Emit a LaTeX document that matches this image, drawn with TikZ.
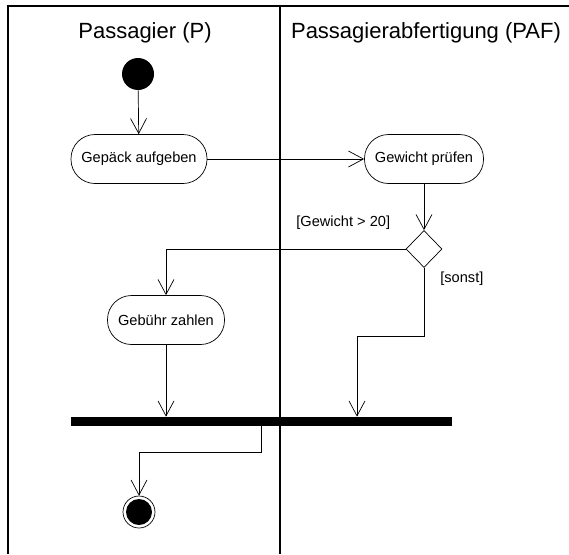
\documentclass[tikz,border=0pt]{standalone}
\usepackage{fontspec}
\setmainfont{Liberation Sans}
\usetikzlibrary{arrows.meta,shapes.geometric}

\tikzset{
  lane/.style={font=\fontsize{22}{24}\selectfont},
  activity/.style={draw, rounded corners=24pt, minimum height=49pt, inner sep=0pt,
    font=\fontsize{14.6}{16}\selectfont},
  decision/.style={draw, diamond, minimum width=36pt, minimum height=37pt, inner sep=0pt},
  startnode/.style={circle, fill, minimum size=32pt, inner sep=0pt},
  endnode/.style={circle, draw, minimum size=32pt, inner sep=0pt,
    path picture={\fill (path picture bounding box.center) circle (13pt);}},
  syncbar/.style={fill, minimum height=9pt, inner sep=0pt},
  guard/.style={font=\fontsize{14.6}{16}\selectfont, anchor=west, inner sep=0pt},
  flow/.style={-{Straight Barb[length=15pt,width=16pt]}}
}

\begin{document}
\begin{tikzpicture}[x=1pt, y=-1pt, line width=0.7pt]
\useasboundingbox (0,0) rectangle (569,554);

\draw[line width=1.2pt] (8,554) -- (8,6) -- (569,6);
\draw[line width=1.2pt] (280,6) -- (280,554);
\node[lane] (lp) at (145,33) {Passagier (P)};
\node[lane] (lpaf) at (426,33) {Passagierabfertigung (PAF)};

\node[startnode] (start) at (138,74) {};
\node[activity, minimum width=136pt] (luggage) at (139,159) {Gepäck aufgeben};
\node[activity, minimum width=119pt] (weigh) at (424,159) {Gewicht prüfen};
\node[decision] (dec) at (424,249) {};
\node[activity, minimum width=117pt] (pay) at (166,320) {Gebühr zahlen};
\node[syncbar, minimum width=381pt] (join) at (261.5,421.5) {};
\node[endnode] (end) at (139,512) {};

\node[guard] (heavy) at (296,223) {[Gewicht > 20]};
\node[guard] (other) at (440,279) {[sonst]};

\coordinate (bend) at (357,336);
\draw[flow] (start) -- (luggage);
\draw[flow] (luggage) -- (weigh);
\draw[flow] (weigh) -- (dec);
\draw[flow] (dec.west) -| (pay.north);
\draw[flow] (dec.south) |- (bend) -- (bend |- join.north);
\draw[flow] (pay) -- (pay |- join.north);
\draw[flow] (join.south) -- ++(0,26) -| (end);
%% join and then done
\end{tikzpicture}
\end{document}
